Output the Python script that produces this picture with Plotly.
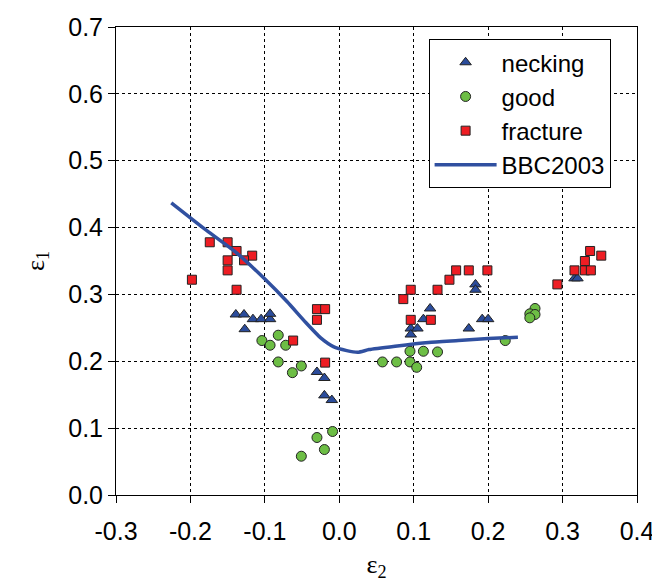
import plotly.graph_objects as go

# ---- data ----
necking_x = [-0.139, -0.128, -0.116, -0.105, -0.093, -0.093, -0.127, -0.030, -0.020, -0.020, -0.010,
             0.096, 0.105, 0.096, 0.113, 0.122, 0.174, 0.183, 0.183, 0.192, 0.200, 0.316, 0.320]
necking_y = [0.270, 0.270, 0.263, 0.263, 0.263, 0.271, 0.248, 0.184, 0.175, 0.149, 0.142,
             0.249, 0.249, 0.240, 0.263, 0.279, 0.249, 0.315, 0.307, 0.263, 0.263, 0.324, 0.324]

good_x = [-0.082, -0.104, -0.093, -0.072, -0.082, -0.051, -0.063, -0.009, -0.030, -0.020, -0.051,
          0.058, 0.077, 0.095, 0.104, 0.095, 0.113, 0.132, 0.223, 0.263, 0.256, 0.263, 0.256]
good_y = [0.239, 0.231, 0.224, 0.224, 0.199, 0.193, 0.183, 0.095, 0.086, 0.068, 0.058,
          0.199, 0.199, 0.199, 0.191, 0.215, 0.215, 0.214, 0.231, 0.279, 0.271, 0.270, 0.265]

fracture_x = [-0.174, -0.150, -0.138, -0.117, -0.150, -0.128, -0.150, -0.198, -0.138, -0.030,
              -0.019, -0.030, -0.062, -0.019, 0.157, 0.174, 0.199, 0.148, 0.096, 0.132,
              0.086, 0.096, 0.123, 0.337, 0.352, 0.330, 0.316, 0.330, 0.338, 0.293]
fracture_y = [0.378, 0.378, 0.365, 0.358, 0.351, 0.351, 0.336, 0.322, 0.307, 0.278,
              0.278, 0.262, 0.231, 0.198, 0.336, 0.336, 0.336, 0.322, 0.307, 0.307,
              0.293, 0.262, 0.262, 0.365, 0.358, 0.350, 0.336, 0.336, 0.336, 0.315]

bbc_x = [-0.2257, -0.181, -0.140, -0.100, -0.070, -0.045, -0.025, -0.008, 0.010, 0.025,
         0.040, 0.075, 0.120, 0.160, 0.200, 0.240]
bbc_y = [0.437, 0.398, 0.364, 0.323, 0.289, 0.258, 0.235, 0.222, 0.216, 0.2135,
         0.2175, 0.2225, 0.228, 0.231, 0.234, 0.236]

x_ticks = [-0.3, -0.2, -0.1, 0.0, 0.1, 0.2, 0.3, 0.4]
y_ticks = [0.0, 0.1, 0.2, 0.3, 0.4, 0.5, 0.6, 0.7]

outline = dict(color="#222222", width=1)

fig = go.Figure()
fig.add_trace(go.Scatter(x=necking_x, y=necking_y, mode="markers", name="necking",
                         marker=dict(symbol="triangle-up", size=10, color="#2B4C9B", line=outline)))
fig.add_trace(go.Scatter(x=good_x, y=good_y, mode="markers", name="good",
                         marker=dict(symbol="circle", size=10, color="#6DBE45", line=outline)))
fig.add_trace(go.Scatter(x=fracture_x, y=fracture_y, mode="markers", name="fracture",
                         marker=dict(symbol="square", size=9, color="#EE1D23", line=outline)))
fig.add_trace(go.Scatter(x=bbc_x, y=bbc_y, mode="lines", name="BBC2003",
                         line=dict(color="#3050A0", width=3.5, shape="spline", smoothing=0.5)))

axis_common = dict(
    showline=True, linecolor="black", linewidth=1, mirror=True,
    ticks="outside", ticklen=7, tickwidth=1, tickcolor="black",
    showgrid=True, gridcolor="black", gridwidth=1, griddash="dot",
    zeroline=False, automargin=False,
    tickfont=dict(family="Liberation Sans, Arial, sans-serif", size=25, color="black"),
)

fig.update_xaxes(range=[-0.3, 0.4], tickvals=x_ticks, ticktext=[f"{v:.1f}" for v in x_ticks],
                 ticklabelstandoff=7,
                 title=dict(text="ε<sub>2</sub>", standoff=10,
                            font=dict(family="Liberation Serif, Times New Roman, serif", size=26, color="black")),
                 **axis_common)
fig.update_yaxes(range=[0.0, 0.7], tickvals=y_ticks, ticktext=[f"{v:.1f}" for v in y_ticks],
                 title=dict(text="ε<sub>1</sub>", standoff=16,
                            font=dict(family="Liberation Serif, Times New Roman, serif", size=26, color="black")),
                 **axis_common)

fig.update_layout(
    width=660, height=586,
    margin=dict(l=108, r=31, t=19, b=99),
    plot_bgcolor="white", paper_bgcolor="white",
    showlegend=True,
    legend=dict(x=0.600, y=0.974, xanchor="left", yanchor="top",
                bgcolor="white", bordercolor="black", borderwidth=1,
                font=dict(family="Liberation Sans, Arial, sans-serif", size=24, color="black"),
                itemwidth=62, tracegroupgap=0),
)

fig.write_html("out.html")
